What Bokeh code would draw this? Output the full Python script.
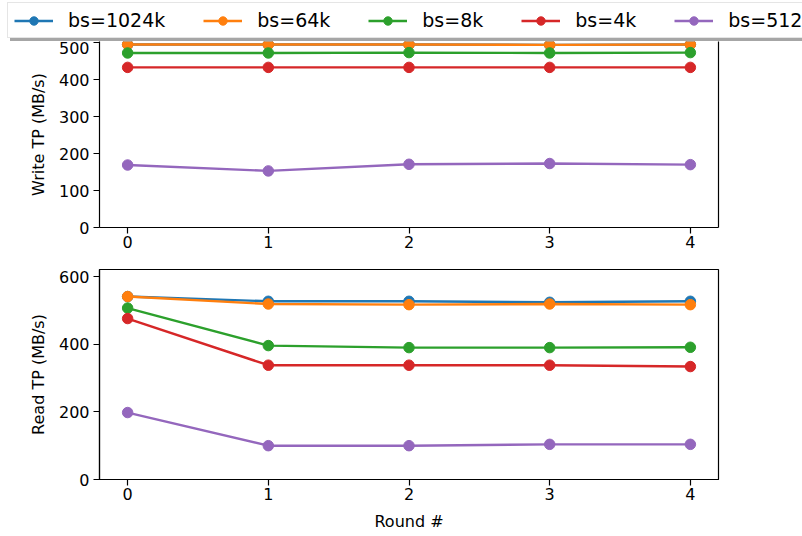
from bokeh.plotting import figure
from bokeh.layouts import column
from bokeh.models import Legend, LegendItem, FixedTicker, Range1d, LinearAxis
from bokeh.core.properties import value
from bokeh.embed import file_html
from bokeh.resources import INLINE

rounds = [0, 1, 2, 3, 4]
labels = ["bs=1024k", "bs=64k", "bs=8k", "bs=4k", "bs=512"]
colors = ["#1f77b4", "#ff7f0e", "#2ca02c", "#d62728", "#9467bd"]

write_1024k = [495, 495, 495, 494, 495]
write_64k = [495, 495, 495, 494, 495]
write_8k = [472, 472, 473, 472, 473]
write_4k = [433, 433, 433, 433, 433]
write_512 = [169, 153, 171, 173, 170]

read_1024k = [541, 527, 527, 524, 527]
read_64k = [541, 519, 517, 519, 517]
read_8k = [507, 396, 390, 390, 391]
read_4k = [476, 338, 338, 338, 334]
read_512 = [198, 100, 100, 104, 104]

write_series = [write_1024k, write_64k, write_8k, write_4k, write_512]
read_series = [read_1024k, read_64k, read_8k, read_4k, read_512]

write_ticks = [0, 100, 200, 300, 400, 500]
read_ticks = [0, 200, 400, 600]
x_ticks = [0, 1, 2, 3, 4]

FONT = "DejaVu Sans"
W = 802
LEFT = 99
RIGHT = 84
LW = 2.4
MS = 10.5


def style(p, yticks, ylabel):
    p.xgrid.visible = False
    p.ygrid.visible = False
    p.background_fill_color = "white"
    p.border_fill_color = "white"
    p.xaxis.ticker = FixedTicker(ticks=x_ticks)
    p.yaxis.ticker = FixedTicker(ticks=yticks)
    for ax in (p.xaxis, p.yaxis):
        ax.axis_line_color = "black"
        ax.axis_line_width = 1.2
        ax.major_tick_line_color = "black"
        ax.major_tick_line_width = 1.2
        ax.major_tick_out = 6
        ax.major_tick_in = 0
        ax.minor_tick_line_color = None
        ax.major_label_text_font = FONT
        ax.major_label_text_font_size = "16px"
        ax.major_label_text_color = "black"
        ax.axis_label_text_font = FONT
        ax.axis_label_text_font_size = "16px"
        ax.axis_label_text_font_style = "normal"
        ax.axis_label_text_color = "black"
    p.xaxis.major_label_standoff = 2
    p.yaxis.major_label_standoff = 4
    p.yaxis.axis_label = ylabel
    p.yaxis.axis_label_standoff = 8


def draw(p, series):
    out = []
    for col, ys in zip(colors, series):
        r1 = p.line(rounds, ys, line_color=col, line_width=LW)
        r2 = p.scatter(rounds, ys, size=MS, fill_color=col, line_color=col)
        out.append((r1, r2))
    return out


# ---- legend strip (its view range excludes the data, only the legend shows) ----
LEG_FIG_H = 41
pl = figure(width=W, height=LEG_FIG_H, output_backend="svg", toolbar_location=None,
            x_range=Range1d(100, 101), y_range=Range1d(-10, -9),
            x_axis_type=None, y_axis_type=None,
            min_border_left=0, min_border_right=0, min_border_top=0, min_border_bottom=0)
pl.outline_line_color = None
pl.grid.visible = False
pl.background_fill_color = "white"
pl.border_fill_color = "white"
leg_rends = draw(pl, write_series)

common = dict(orientation="horizontal", glyph_height=21,
              label_height=18, label_standoff=15, spacing=38, padding=6,
              margin=0, label_text_font=FONT, label_text_font_size="19px")

# drop shadow of the legend box: one wide, text-less item behind the legend
dummy = pl.line([], [], line_alpha=0)
shadow = Legend(items=[LegendItem(label=value(""), renderers=[dummy])],
                location=(10, 0), glyph_width=800,
                background_fill_color="#4d4d4d", background_fill_alpha=0.5,
                border_line_color=None, label_text_alpha=0, **common)
pl.add_layout(shadow, "center")

legend = Legend(items=[LegendItem(label=l, renderers=[a, b]) for l, (a, b) in zip(labels, leg_rends)],
                location=(7, 3), glyph_width=39,
                background_fill_color="white", background_fill_alpha=1.0,
                border_line_color="#cccccc", border_line_width=1,
                label_text_color="black", **common)
pl.add_layout(legend, "center")

# ---- top figure: write throughput ----
p1 = figure(width=W, height=213, output_backend="svg", toolbar_location=None,
            x_range=Range1d(-0.2, 4.2), y_range=Range1d(0, 503),
            min_border_left=LEFT, min_border_right=RIGHT,
            min_border_top=0, min_border_bottom=27)
style(p1, write_ticks, "Write TP (MB/s)")
p1.outline_line_color = None
spine = LinearAxis(ticker=FixedTicker(ticks=[]), major_tick_out=0, major_tick_in=0,
                   minor_tick_line_color=None, major_label_text_alpha=0,
                   axis_line_color="black", axis_line_width=1.2)
p1.add_layout(spine, "right")
draw(p1, write_series)

# ---- bottom figure: read throughput ----
p2 = figure(width=W, height=281, output_backend="svg", toolbar_location=None,
            x_range=Range1d(-0.2, 4.2), y_range=Range1d(0, 621),
            min_border_left=LEFT, min_border_right=RIGHT,
            min_border_top=15, min_border_bottom=56)
style(p2, read_ticks, "Read TP (MB/s)")
p2.outline_line_color = "black"
p2.outline_line_width = 1.2
p2.xaxis.axis_label = "Round #"
p2.xaxis.axis_label_standoff = 9
draw(p2, read_series)

layout = column(pl, column(p1, p2, spacing=0), spacing=0)
open("out.html", "w").write(file_html(layout, INLINE))
